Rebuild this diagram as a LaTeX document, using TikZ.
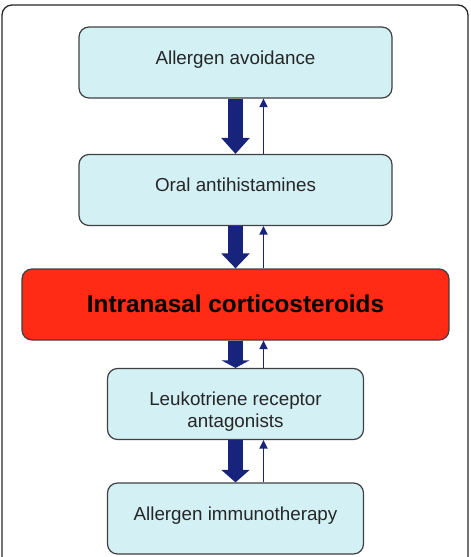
\documentclass[tikz,border=0pt]{standalone}
\usepackage{fontspec}
\setmainfont{Liberation Sans}
\usetikzlibrary{arrows.meta}
\definecolor{boxfill}{HTML}{D3F0F5}
\definecolor{boxline}{HTML}{404040}
\definecolor{redfill}{HTML}{FF2B14}
\definecolor{navy}{HTML}{18247C}
\definecolor{txt}{HTML}{262626}
\begin{document}
\begin{tikzpicture}[x=1pt,y=-1pt,
  tbox/.style={draw=boxline, line width=1.2pt, fill=boxfill, rounded corners=10pt,
    minimum height=71pt, inner sep=0pt, text=txt,
    font=\fontsize{18.8}{22}\selectfont, align=center,
    text height=11pt, text depth=8pt},
  redbox/.style={draw=boxline, line width=1.2pt, fill=redfill, rounded corners=10pt,
    minimum height=71pt, minimum width=427pt, inner sep=0pt, text=black,
    font=\fontsize{24.3}{28}\selectfont\bfseries,
    text height=17pt, text depth=2pt},
  bigarrow/.style={draw=navy, line width=14.4pt},
  smallarrow/.style={draw=navy, line width=1.7pt, -{Triangle[width=8pt,length=8.5pt]}},
  frame/.style={draw=black!85, line width=1.3pt, rounded corners=10pt}]
\useasboundingbox (0,0) rectangle (471,557);
\draw[frame] (2,557) -- (2,5) -- (468,5) -- (468,557);

\node[tbox, minimum width=313pt] (b1) at (235.5,62.5) {Allergen avoidance};
\node[tbox, minimum width=313pt] (b2) at (235.5,190) {Oral antihistamines};
\node[redbox] (r) at (235.5,304.5) {Intranasal corticosteroids};
\node[tbox, minimum width=256pt, text height=50pt, text depth=2.6pt] (b3) at (235.5,404) {Leukotriene receptor\\antagonists};
\node[tbox, minimum width=256pt] (b4) at (235.5,518.5) {Allergen immunotherapy};

\draw[bigarrow, -{Triangle[width=27.6pt,length=16pt]}] (b1.south) -- (b2.north);
\draw[bigarrow, -{Triangle[width=27.6pt,length=15pt]}] (b2.south) -- (r.north);
\draw[bigarrow, -{Triangle[width=27.6pt,length=7.5pt]}] (r.south) -- (b3.north);
\draw[bigarrow, -{Triangle[width=27.6pt,length=12.5pt]}] (b3.south) -- (b4.north);

\draw[smallarrow] ([xshift=28pt]b2.north) -- ([xshift=28pt]b1.south);
\draw[smallarrow] ([xshift=28pt]r.north) -- ([xshift=28pt]b2.south);
\draw[smallarrow] ([xshift=28pt]b3.north) -- ([xshift=28pt]r.south);
\draw[smallarrow] ([xshift=28pt]b4.north) -- ([xshift=28pt]b3.south);
\end{tikzpicture}
\end{document}
